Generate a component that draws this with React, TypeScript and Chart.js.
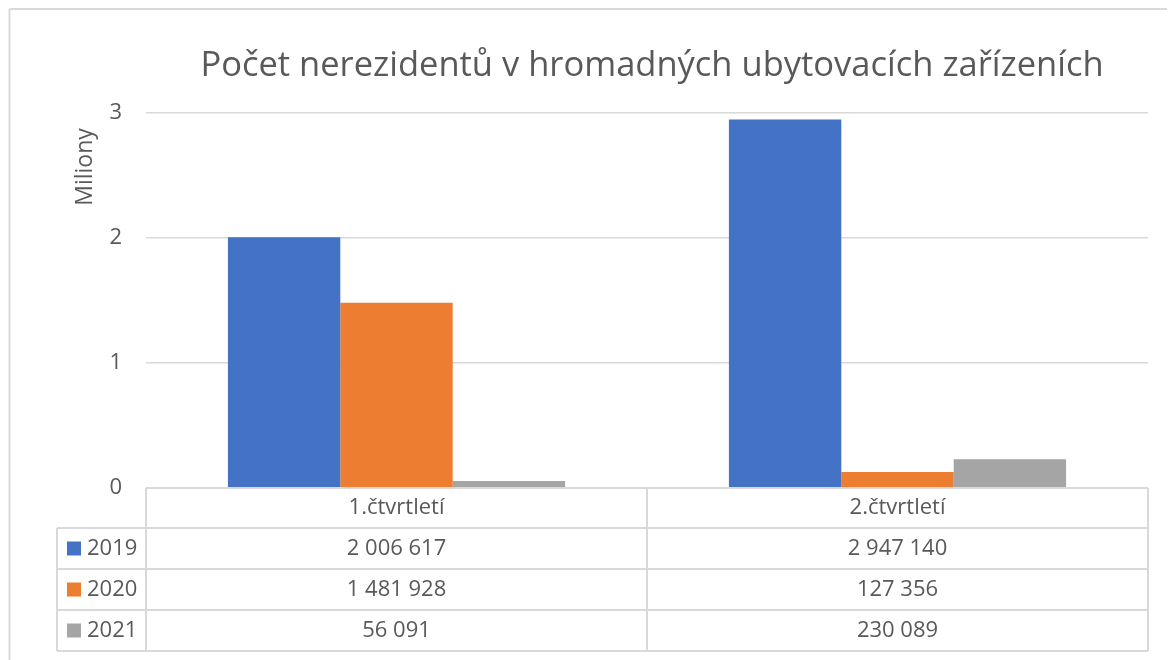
import React, { useEffect, useRef } from "react";
import { Chart, registerables } from "chart.js";

Chart.register(...registerables);

const categories = ["1.čtvrtletí", "2.čtvrtletí"];
const seriesNames = ["2019", "2020", "2021"];
const values2019 = [2006617, 2947140];
const values2020 = [1481928, 127356];
const values2021 = [56091, 230089];
const colors = ["#4472C4", "#ED7D31", "#A5A5A5"];
const yTicks = [0, 1000000, 2000000, 3000000];
const yUnit = 1000000;
const titleText = "Počet nerezidentů v hromadných ubytovacích zařízeních";
const axisTitle = "Miliony";

const FONT = "'Open Sans', 'Noto Sans', sans-serif";
const TEXT = "#595959";
const LINE = "#d9d9d9";

const fmt = (n: number) => n.toString().replace(/\B(?=(\d{3})+(?!\d))/g, " ");

const decorPlugin = {
  id: "decor",
  afterDraw(chart: any) {
    const ctx = chart.ctx as CanvasRenderingContext2D;
    const area = chart.chartArea;
    const left = area.left;
    const right = area.right;
    const mid = (left + right) / 2;
    const top = area.bottom;
    const rowH = 41;
    const headH = 40;
    const legLeft = 49;
    const rows = [top + headH, top + headH + rowH, top + headH + 2 * rowH, top + headH + 3 * rowH];
    const bottom = rows[3];

    ctx.save();
    // outer border
    ctx.strokeStyle = LINE;
    ctx.lineWidth = 2;
    ctx.beginPath();
    ctx.moveTo(1.5, 1);
    ctx.lineTo(chart.width + 10, 1);
    ctx.moveTo(1.5, 1);
    ctx.lineTo(1.5, chart.height + 10);
    ctx.stroke();

    // title
    ctx.fillStyle = TEXT;
    ctx.font = `34.5px ${FONT}`;
    ctx.textAlign = "center";
    ctx.textBaseline = "middle";
    ctx.fillText(titleText, 644, 58);

    // axis title
    ctx.save();
    ctx.translate(77, 159);
    ctx.rotate(-Math.PI / 2);
    ctx.font = `23px ${FONT}`;
    ctx.fillText(axisTitle, 0, 0);
    ctx.restore();

    // table lines
    ctx.strokeStyle = LINE;
    ctx.lineWidth = 2;
    ctx.beginPath();
    ctx.moveTo(left, top);
    ctx.lineTo(right, top);
    rows.forEach((y) => {
      ctx.moveTo(legLeft, y);
      ctx.lineTo(right, y);
    });
    ctx.moveTo(legLeft, rows[0]);
    ctx.lineTo(legLeft, bottom);
    [left, mid, right].forEach((x) => {
      ctx.moveTo(x, top);
      ctx.lineTo(x, bottom);
    });
    ctx.stroke();

    // table text
    ctx.font = `22px ${FONT}`;
    ctx.fillStyle = TEXT;
    ctx.textAlign = "center";
    ctx.textBaseline = "middle";
    const colCenters = [(left + mid) / 2, (mid + right) / 2];
    categories.forEach((c, i) => ctx.fillText(c, colCenters[i], top + headH / 2));
    chart.data.datasets.forEach((ds: any, r: number) => {
      const yc = rows[r] + rowH / 2;
      ds.data.forEach((v: number, i: number) => {
        ctx.fillText(fmt(v), colCenters[i], yc);
      });
      ctx.fillStyle = ds.backgroundColor;
      ctx.fillRect(59, yc - 7, 14, 14);
      ctx.fillStyle = TEXT;
      ctx.textAlign = "left";
      ctx.fillText(ds.label, 79, yc);
      ctx.textAlign = "center";
    });
    ctx.restore();
  },
};

export default function App() {
  const ref = useRef<HTMLCanvasElement | null>(null);
  useEffect(() => {
    if (!ref.current) return;
    Chart.defaults.font.family = FONT;
    const chart = new Chart(ref.current, {
      type: "bar",
      data: {
        labels: categories,
        datasets: [values2019, values2020, values2021].map((d, i) => ({
          label: seriesNames[i],
          data: d,
          backgroundColor: colors[i],
          borderWidth: 0,
          barPercentage: 1,
          categoryPercentage: 0.673,
        })),
      },
      options: {
        responsive: false,
        animation: false,
        devicePixelRatio: 1,
        layout: { padding: { left: 0, right: 40, top: 105, bottom: 172 } },
        plugins: { legend: { display: false }, title: { display: false }, tooltip: { enabled: false } },
        scales: {
          x: { display: false, offset: true },
          y: {
            min: 0,
            max: 3000000,
            afterFit: (s: any) => {
              s.width = 138;
            },
            afterBuildTicks: (s: any) => {
              s.ticks = yTicks.map((v) => ({ value: v }));
            },
            ticks: {
              color: TEXT,
              font: { size: 22, family: FONT },
              padding: 24,
              callback: (v: any) => String(Number(v) / yUnit),
            },
            grid: { color: LINE, lineWidth: 1.5, drawTicks: false },
            border: { display: false },
          },
        },
      },
      plugins: [decorPlugin],
    });
    return () => chart.destroy();
  }, []);
  return (
    <div style={{ width: 1167, height: 652, overflow: "hidden", position: "relative", background: "#fff" }}>
      <canvas ref={ref} width={1180} height={652} style={{ display: "block" }} />
    </div>
  );
}
